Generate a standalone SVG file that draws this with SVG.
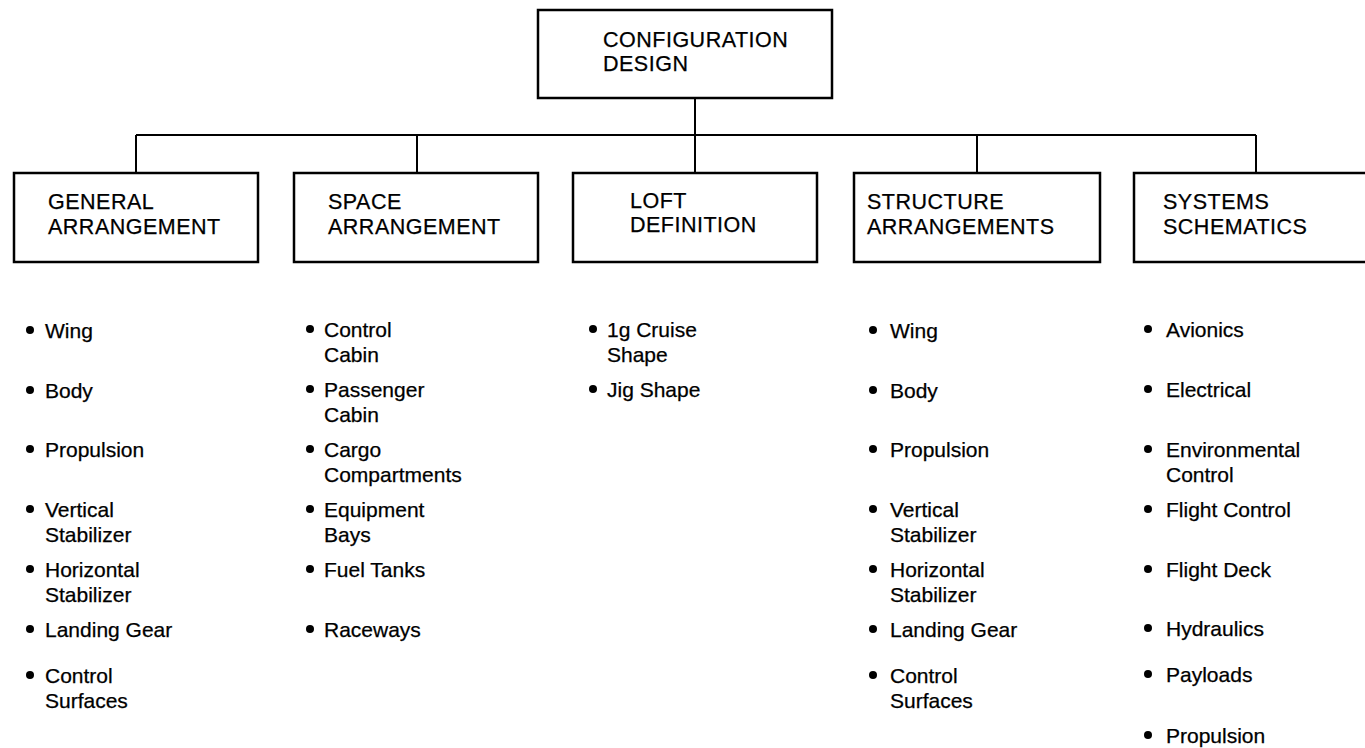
<svg xmlns="http://www.w3.org/2000/svg" width="1365" height="748" viewBox="0 0 1365 748">
  <style>
    .box { fill: #ffffff; stroke: #000000; stroke-width: 2.5; }
    .wire { fill: none; stroke: #000000; stroke-width: 2; }
    .hdr { font-family: "Liberation Sans", Arial, sans-serif; font-size: 21.5px; letter-spacing: 0.5px; fill: #000000; stroke: #000000; stroke-width: 0.25; }
    .item { font-family: "Liberation Sans", Arial, sans-serif; font-size: 21px; fill: #000000; stroke: #000000; stroke-width: 0.25; }
    .dot { fill: #000000; }
  </style>
  <rect width="1365" height="748" fill="#ffffff"/>

  <!-- tree connectors -->
  <g id="connectors" class="wire">
    <line x1="695" y1="98" x2="695" y2="135"/>
    <line x1="136" y1="135" x2="1256" y2="135"/>
    <line x1="136" y1="135" x2="136" y2="173"/>
    <line x1="417" y1="135" x2="417" y2="173"/>
    <line x1="695" y1="135" x2="695" y2="173"/>
    <line x1="977" y1="135" x2="977" y2="173"/>
    <line x1="1256" y1="135" x2="1256" y2="173"/>
  </g>

  <g id="configuration-design">
    <rect class="box" x="538" y="10" width="294" height="88"/>
    <text class="hdr" x="603" y="47">CONFIGURATION</text>
    <text class="hdr" x="603" y="71">DESIGN</text>
  </g>

  <g id="general-arrangement">
    <rect class="box" x="14" y="173" width="244" height="89"/>
    <text class="hdr" x="48" y="209">GENERAL</text>
    <text class="hdr" x="48" y="234">ARRANGEMENT</text>
  </g>

  <g id="space-arrangement">
    <rect class="box" x="294" y="173" width="244" height="89"/>
    <text class="hdr" x="328" y="209">SPACE</text>
    <text class="hdr" x="328" y="234">ARRANGEMENT</text>
  </g>

  <g id="loft-definition">
    <rect class="box" x="573" y="173" width="244" height="89"/>
    <text class="hdr" x="630" y="208">LOFT</text>
    <text class="hdr" x="630" y="232">DEFINITION</text>
  </g>

  <g id="structure-arrangements">
    <rect class="box" x="854" y="173" width="246" height="89"/>
    <text class="hdr" x="867" y="209">STRUCTURE</text>
    <text class="hdr" x="867" y="234">ARRANGEMENTS</text>
  </g>

  <g id="systems-schematics">
    <rect class="box" x="1134" y="173" width="250" height="89"/>
    <text class="hdr" x="1163" y="209">SYSTEMS</text>
    <text class="hdr" x="1163" y="234">SCHEMATICS</text>
  </g>

  <!-- bullet lists under each heading -->
  <g id="list-general">
    <circle class="dot" cx="30" cy="330" r="4"/><text class="item" x="45" y="338">Wing</text>
    <circle class="dot" cx="30" cy="390" r="4"/><text class="item" x="45" y="398">Body</text>
    <circle class="dot" cx="30" cy="449" r="4"/><text class="item" x="45" y="457">Propulsion</text>
    <circle class="dot" cx="30" cy="509" r="4"/><text class="item" x="45" y="517">Vertical</text>
    <text class="item" x="45" y="542">Stabilizer</text>
    <circle class="dot" cx="30" cy="569" r="4"/><text class="item" x="45" y="577">Horizontal</text>
    <text class="item" x="45" y="602">Stabilizer</text>
    <circle class="dot" cx="30" cy="629" r="4"/><text class="item" x="45" y="637">Landing Gear</text>
    <circle class="dot" cx="30" cy="675" r="4"/><text class="item" x="45" y="683">Control</text>
    <text class="item" x="45" y="708">Surfaces</text>
  </g>

  <g id="list-space">
    <circle class="dot" cx="310" cy="329" r="4"/><text class="item" x="324" y="337">Control</text>
    <text class="item" x="324" y="362">Cabin</text>
    <circle class="dot" cx="310" cy="389" r="4"/><text class="item" x="324" y="397">Passenger</text>
    <text class="item" x="324" y="422">Cabin</text>
    <circle class="dot" cx="310" cy="449" r="4"/><text class="item" x="324" y="457">Cargo</text>
    <text class="item" x="324" y="482">Compartments</text>
    <circle class="dot" cx="310" cy="509" r="4"/><text class="item" x="324" y="517">Equipment</text>
    <text class="item" x="324" y="542">Bays</text>
    <circle class="dot" cx="310" cy="569" r="4"/><text class="item" x="324" y="577">Fuel Tanks</text>
    <circle class="dot" cx="310" cy="629" r="4"/><text class="item" x="324" y="637">Raceways</text>
  </g>

  <g id="list-loft">
    <circle class="dot" cx="593" cy="329" r="4"/><text class="item" x="607" y="337">1g Cruise</text>
    <text class="item" x="607" y="362">Shape</text>
    <circle class="dot" cx="593" cy="389" r="4"/><text class="item" x="607" y="397">Jig Shape</text>
  </g>

  <g id="list-structure">
    <circle class="dot" cx="873" cy="330" r="4"/><text class="item" x="890" y="338">Wing</text>
    <circle class="dot" cx="873" cy="390" r="4"/><text class="item" x="890" y="398">Body</text>
    <circle class="dot" cx="873" cy="449" r="4"/><text class="item" x="890" y="457">Propulsion</text>
    <circle class="dot" cx="873" cy="509" r="4"/><text class="item" x="890" y="517">Vertical</text>
    <text class="item" x="890" y="542">Stabilizer</text>
    <circle class="dot" cx="873" cy="569" r="4"/><text class="item" x="890" y="577">Horizontal</text>
    <text class="item" x="890" y="602">Stabilizer</text>
    <circle class="dot" cx="873" cy="629" r="4"/><text class="item" x="890" y="637">Landing Gear</text>
    <circle class="dot" cx="873" cy="675" r="4"/><text class="item" x="890" y="683">Control</text>
    <text class="item" x="890" y="708">Surfaces</text>
  </g>

  <g id="list-systems">
    <circle class="dot" cx="1148" cy="329" r="4"/><text class="item" x="1166" y="337">Avionics</text>
    <circle class="dot" cx="1148" cy="389" r="4"/><text class="item" x="1166" y="397">Electrical</text>
    <circle class="dot" cx="1148" cy="449" r="4"/><text class="item" x="1166" y="457">Environmental</text>
    <text class="item" x="1166" y="482">Control</text>
    <circle class="dot" cx="1148" cy="509" r="4"/><text class="item" x="1166" y="517">Flight Control</text>
    <circle class="dot" cx="1148" cy="569" r="4"/><text class="item" x="1166" y="577">Flight Deck</text>
    <circle class="dot" cx="1148" cy="628" r="4"/><text class="item" x="1166" y="636">Hydraulics</text>
    <circle class="dot" cx="1148" cy="674" r="4"/><text class="item" x="1166" y="682">Payloads</text>
    <circle class="dot" cx="1148" cy="735" r="4"/><text class="item" x="1166" y="743">Propulsion</text>
  </g>
</svg>
